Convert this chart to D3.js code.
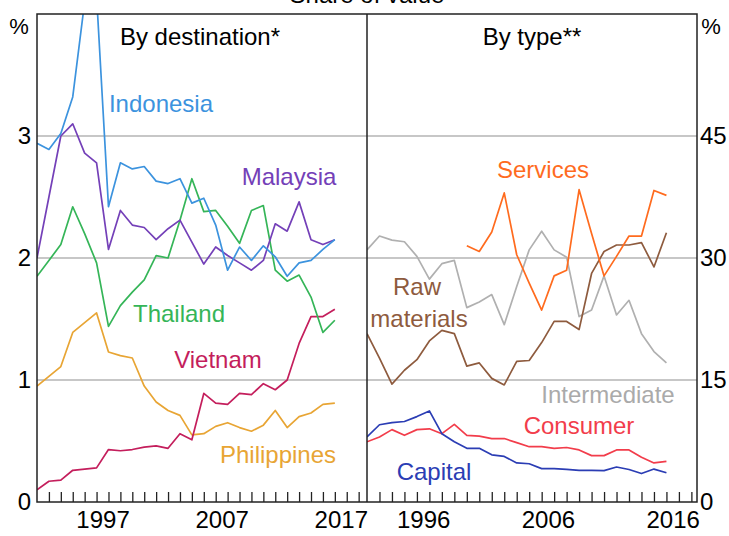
<!DOCTYPE html>
<html>
<head>
<meta charset="utf-8">
<script src="https://cdn.jsdelivr.net/npm/d3@7/dist/d3.min.js"></script>
<style>
  body { margin: 0; background: #fff; }
  svg { display: block; font-family: "Liberation Sans", Arial, sans-serif; }
</style>
</head>
<body>
<div id="chart"></div>
<script>
// ---- data ----
var destYears = d3.range(1992, 2018);   // 1992..2017
var indonesia = [2.94,2.89,3.02,3.32,4.1,4.15,2.42,2.78,2.73,2.75,2.63,2.61,2.65,2.45,2.49,2.27,1.90,2.09,1.98,2.10,2.01,1.85,1.96,1.98,2.07,2.15];
var malaysia  = [2.0,2.5,3.0,3.10,2.86,2.78,2.07,2.39,2.27,2.25,2.15,2.24,2.31,2.13,1.95,2.09,2.02,1.96,1.90,1.98,2.28,2.22,2.46,2.15,2.11,2.15];
var thailand  = [1.85,1.98,2.11,2.42,2.20,1.96,1.44,1.61,1.72,1.82,2.02,2.00,2.31,2.65,2.38,2.39,2.26,2.12,2.39,2.43,1.90,1.81,1.86,1.68,1.39,1.49];
var vietnam   = [0.10,0.17,0.18,0.26,0.27,0.28,0.43,0.42,0.43,0.45,0.46,0.44,0.56,0.51,0.89,0.81,0.80,0.89,0.88,0.97,0.92,1.00,1.30,1.52,1.52,1.58];
var philippines = [0.95,1.03,1.11,1.39,1.47,1.55,1.23,1.20,1.18,0.95,0.82,0.75,0.71,0.55,0.56,0.62,0.65,0.61,0.58,0.63,0.75,0.61,0.70,0.73,0.80,0.81];

var typeYears = d3.range(1992, 2017);   // 1992..2016
var servYears = d3.range(2000, 2017);   // 2000..2016
var services     = [31.5,30.8,33.2,38.0,30.4,26.9,23.6,27.8,28.5,38.4,33.0,27.8,30.2,32.7,32.7,38.3,37.7];
var intermediate = [31.0,32.7,32.2,32.0,30.2,27.4,29.3,29.7,23.9,24.6,25.5,21.8,26.5,31.0,33.3,31.0,30.1,22.8,23.6,27.8,23.0,24.8,20.7,18.5,17.1];
var rawMaterials = [20.7,17.7,14.5,16.2,17.5,19.8,21.1,20.7,16.7,17.1,15.2,14.4,17.3,17.4,19.6,22.2,22.2,21.2,28.1,30.8,31.6,31.6,31.9,28.9,33.1];
var consumer     = [7.4,8.0,8.9,8.2,8.9,9.0,8.4,9.55,8.2,8.1,7.8,7.8,7.3,6.8,6.8,6.6,6.7,6.4,5.7,5.7,6.4,6.4,5.5,4.8,5.0];
var capital      = [8.0,9.5,9.75,9.9,10.5,11.2,8.4,7.4,6.6,6.6,5.8,5.6,4.8,4.7,4.1,4.1,4.0,3.9,3.9,3.85,4.3,4.0,3.5,4.05,3.6];

var leftTicks = [0,1,2,3];
var rightTicks = [0,15,30,45];
var leftYearLabels = [1997,2007,2017];
var rightYearLabels = [1996,2006,2016];

// ---- layout ----
var W = 729, H = 536;
var plotTop = 14, plotBottom = 502, x0 = 37, xm = 367, x1 = 697;
var fs = "24px";

var svg = d3.select("#chart").append("svg").attr("width",W).attr("height",H);

var xL = d3.scaleLinear().domain([1992, 2019.7]).range([x0, xm]);
var xR = d3.scaleLinear().domain([1992, 2018.45]).range([xm, x1]);
var yL = d3.scaleLinear().domain([0, 4]).range([plotBottom, plotTop]);
var yR = d3.scaleLinear().domain([0, 60]).range([plotBottom, plotTop]);

var defs = svg.append("defs");
defs.append("clipPath").attr("id","clipL")
  .append("rect").attr("x",x0).attr("y",plotTop).attr("width",xm-x0).attr("height",plotBottom-plotTop);
defs.append("clipPath").attr("id","clipR")
  .append("rect").attr("x",xm).attr("y",plotTop).attr("width",x1-xm).attr("height",plotBottom-plotTop);

// title (cut off at the top like the original)
svg.append("text").attr("x",367).attr("y",3).attr("text-anchor","middle")
  .attr("font-size",fs).text("Share of value");

// gridlines
svg.append("g").selectAll("line").data([1,2,3]).enter().append("line")
  .attr("x1",x0).attr("x2",x1)
  .attr("y1",function(d){ return yL(d); }).attr("y2",function(d){ return yL(d); })
  .attr("stroke","#b4b4b4").attr("stroke-width",1.5);

// x ticks (inside, upward)
svg.append("g").attr("transform","translate(0,"+plotBottom+")")
  .call(d3.axisBottom(xL).tickValues(d3.range(1993, 2020)).tickSize(-10).tickFormat(""))
  .call(function(g){ g.select(".domain").remove(); });
svg.append("g").attr("transform","translate(0,"+plotBottom+")")
  .call(d3.axisBottom(xR).tickValues(d3.range(1993, 2019)).tickSize(-10).tickFormat(""))
  .call(function(g){ g.select(".domain").remove(); });
svg.selectAll(".tick line").attr("stroke","#222").attr("stroke-width",1.3);

// x labels
svg.append("g").attr("transform","translate(0,"+plotBottom+")")
  .call(d3.axisBottom(xL).tickValues(leftYearLabels.map(function(d){ return d+0.5; }))
    .tickSize(0).tickPadding(9).tickFormat(function(d){ return Math.floor(d); }))
  .call(function(g){ g.select(".domain").remove(); });
svg.append("g").attr("transform","translate(0,"+plotBottom+")")
  .call(d3.axisBottom(xR).tickValues(rightYearLabels.map(function(d){ return d+0.5; }))
    .tickSize(0).tickPadding(9).tickFormat(function(d){ return Math.floor(d); }))
  .call(function(g){ g.select(".domain").remove(); });

// y labels
svg.append("g").attr("transform","translate("+x0+",0)")
  .call(d3.axisLeft(yL).tickValues(leftTicks).tickSize(0).tickPadding(6).tickFormat(d3.format("d")))
  .call(function(g){ g.select(".domain").remove(); });
svg.append("g").attr("transform","translate("+x1+",0)")
  .call(d3.axisRight(yR).tickValues(rightTicks).tickSize(0).tickPadding(3).tickFormat(d3.format("d")))
  .call(function(g){ g.select(".domain").remove(); });
svg.selectAll(".tick text").attr("font-size",fs).attr("font-family","Liberation Sans, Arial, sans-serif").attr("fill","#000");

svg.append("text").attr("x",19).attr("y",34).attr("text-anchor","middle").attr("font-size","22px").text("%");
svg.append("text").attr("x",711).attr("y",34).attr("text-anchor","middle").attr("font-size","22px").text("%");

// lines
function drawLine(years, vals, x, y, color, clip){
  var line = d3.line().x(function(d,i){ return x(years[i]); }).y(function(d){ return y(d); });
  svg.append("path").datum(vals).attr("d",line).attr("fill","none")
    .attr("stroke",color).attr("stroke-width",1.7).attr("stroke-linejoin","round")
    .attr("clip-path","url(#"+clip+")");
}
drawLine(destYears, philippines, xL, yL, "#e8a534", "clipL");
drawLine(destYears, vietnam, xL, yL, "#c41e5c", "clipL");
drawLine(destYears, thailand, xL, yL, "#35b558", "clipL");
drawLine(destYears, malaysia, xL, yL, "#7440b8", "clipL");
drawLine(destYears, indonesia, xL, yL, "#3c93de", "clipL");

drawLine(typeYears, intermediate, xR, yR, "#b0b0b0", "clipR");
drawLine(typeYears, rawMaterials, xR, yR, "#8e5b3e", "clipR");
drawLine(servYears, services, xR, yR, "#ff6b1e", "clipR");
drawLine(typeYears, consumer, xR, yR, "#f23d4b", "clipR");
drawLine(typeYears, capital, xR, yR, "#2b3db4", "clipR");

// frame
svg.append("rect").attr("x",x0).attr("y",plotTop).attr("width",x1-x0).attr("height",plotBottom-plotTop)
  .attr("fill","none").attr("stroke","#222").attr("stroke-width",1.5);
svg.append("line").attr("x1",xm).attr("x2",xm).attr("y1",plotTop).attr("y2",plotBottom)
  .attr("stroke","#222").attr("stroke-width",1.5);

// labels
var labels = [
  {t:"By destination*", x:200, y:45, c:"#000"},
  {t:"By type**", x:532, y:45, c:"#000"},
  {t:"Indonesia", x:161, y:112, c:"#3c93de"},
  {t:"Malaysia", x:289, y:185, c:"#7440b8"},
  {t:"Thailand", x:179, y:322, c:"#35b558"},
  {t:"Vietnam", x:218, y:368, c:"#c41e5c"},
  {t:"Philippines", x:278, y:463, c:"#e8a534"},
  {t:"Services", x:543, y:178, c:"#ff6b1e"},
  {t:"Raw", x:417, y:295, c:"#8e5b3e"},
  {t:"materials", x:419, y:327, c:"#8e5b3e"},
  {t:"Intermediate", x:608, y:403, c:"#aaaaaa"},
  {t:"Consumer", x:579, y:434, c:"#f23d4b"},
  {t:"Capital", x:434, y:480, c:"#2b3db4"}
];
svg.append("g").selectAll("text").data(labels).enter().append("text")
  .attr("x",function(d){ return d.x; }).attr("y",function(d){ return d.y; })
  .attr("text-anchor","middle").attr("font-size",fs)
  .attr("fill",function(d){ return d.c; }).text(function(d){ return d.t; });
</script>
</body>
</html>
